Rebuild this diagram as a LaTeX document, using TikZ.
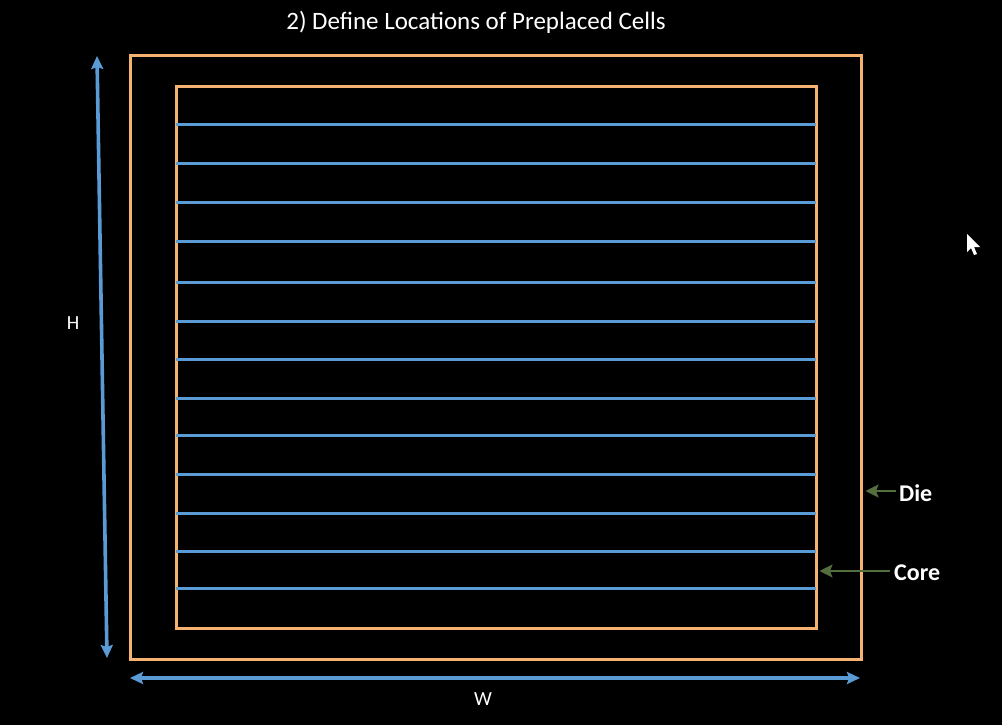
\documentclass[tikz,border=0pt]{standalone}
\usepackage{fontspec}
\setmainfont{Carlito}
\usepackage{xcolor}
\usepackage{tikz}
\usetikzlibrary{positioning,arrows.meta,calc}

\definecolor{dieorange}{RGB}{246,178,112}
\definecolor{rowblue}{RGB}{91,155,213}
\definecolor{tagolive}{RGB}{84,110,62}

\begin{document}
\begin{tikzpicture}[
    x=1pt, y=-1pt,
    every node/.style={text=white, inner sep=0pt},
    box/.style={draw=dieorange, line width=3pt, minimum width=#1},
    dimarrow/.style={rowblue, line width=3.6pt, {Stealth[length=13pt,width=12pt,inset=2pt]}-{Stealth[length=13pt,width=12pt,inset=2pt]}},
    tagarrow/.style={tagolive, line width=2.4pt, -{Stealth[length=13pt,width=13pt,inset=2.5pt]}},
    rowline/.style={rowblue, line width=3pt},
    tag/.style={font=\fontsize{24}{26}\selectfont\bfseries, anchor=west}
]
% background and page size
\fill[black] (0,0) rectangle (1002,725);
\useasboundingbox (0,0) rectangle (1002,725);

% Title
\node[font=\fontsize{25}{28}\selectfont] (title) at (476,22) {2) Define Locations of Preplaced Cells};

% Die and core outlines
\node[box=731pt, minimum height=603pt] (die) at (495.5,357.5) {};
\node[box=640pt, minimum height=541pt] (core) at (496,357.5) {};

% Rows inside the core
\foreach \y in {124,163,202,241,282,321,359,398,435,474,513,551,588} {
    \coordinate (row) at (0,\y);
    \draw[rowline] ([xshift=1.5pt]core.west |- row) -- ([xshift=-2pt]core.east |- row);
}

% Height and width arrows
\coordinate (htop) at (97,56);
\coordinate (hbot) at (107,658);
\draw[dimarrow] (htop) -- (hbot);
\node[font=\fontsize{20}{22}\selectfont] (hlbl) at (73,323) {H};

\coordinate (wleft) at (130,678);
\coordinate (wright) at (860,678);
\draw[dimarrow] (wleft) -- (wright);
\node[font=\fontsize{20}{22}\selectfont] (wlbl) at (483,699) {W};

% Labels for die and core
\node[tag] (dielbl) at (899,493) {Die};
\node[tag] (corelbl) at (894,573) {Core};
\coordinate (dietail) at (896,491);
\coordinate (coretail) at (890,571);
\draw[tagarrow] (dietail) -- ([xshift=3pt]die.east |- dietail);
\draw[tagarrow] (coretail) -- ([xshift=2pt]core.east |- coretail);

% Mouse pointer
\fill[white] (967,234) -- (967,252) -- (971,248) -- (974,255) -- (977,254) -- (974,247) -- (980,247) -- cycle;
\end{tikzpicture}
\end{document}
